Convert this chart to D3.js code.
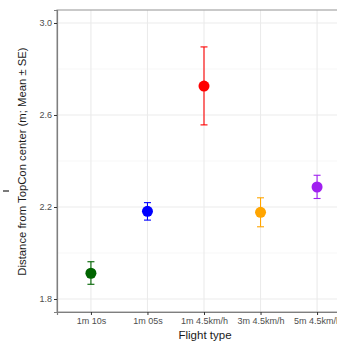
<!DOCTYPE html>
<html><head><meta charset="utf-8">
<script src="https://cdn.jsdelivr.net/npm/d3@7"></script>
<style>body{margin:0;background:#fff}svg{display:block}</style>
</head><body>
<svg id="c" width="337" height="343"></svg>
<script>
const categories = ["1m 10s","1m 05s","1m 4.5km/h","3m 4.5km/h","5m 4.5km/h"];
const means = [1.912, 2.181, 2.726, 2.177, 2.287];
const upper = [1.962, 2.219, 2.896, 2.240, 2.338];
const lower = [1.864, 2.143, 2.557, 2.114, 2.237];
const colors = ["#006400","#0000FF","#FF0000","#FFA500","#A020F0"];
const yTicks = [1.8, 2.2, 2.6, 3.0];
const yMinor = [2.0, 2.4, 2.8];

(function(){
const svg = d3.select("#c");
const pL = 57, pT = 10, pB = 312, pR = 351;
const x = d3.scalePoint().domain(categories).range([pL, pR]).padding(0.6);
const y = d3.scaleLinear().domain([1.7435, 3.0565]).range([pB, pT]);
const font = "Liberation Sans, Arial, sans-serif";

const g = svg.append("g");
g.selectAll(".ymin").data(yMinor).enter().append("line")
  .attr("x1", pL).attr("x2", pR).attr("y1", d=>y(d)).attr("y2", d=>y(d))
  .attr("stroke", "#f2f2f2").attr("stroke-width", 0.6);
g.selectAll(".ymaj").data(yTicks).enter().append("line")
  .attr("x1", pL).attr("x2", pR).attr("y1", d=>y(d)).attr("y2", d=>y(d))
  .attr("stroke", "#ebebeb").attr("stroke-width", 1.1);
g.selectAll(".xmaj").data(categories).enter().append("line")
  .attr("x1", d=>x(d)).attr("x2", d=>x(d)).attr("y1", pT).attr("y2", pB)
  .attr("stroke", "#ebebeb").attr("stroke-width", 1.1);

svg.append("rect").attr("x", pL).attr("y", pT).attr("width", pR-pL).attr("height", pB-pT)
  .attr("fill", "none").attr("stroke", "#a6a6a6").attr("stroke-width", 1.2);

const yAxis = d3.axisLeft(y).tickValues(yTicks).tickFormat(d3.format(".1f")).tickSize(3).tickPadding(2);
const ya = svg.append("g").attr("transform", `translate(${pL},0)`).call(yAxis);
const xAxis = d3.axisBottom(x).tickSize(3).tickPadding(3);
const xa = svg.append("g").attr("transform", `translate(0,${pB})`).call(xAxis);
[ya, xa].forEach(a => {
  a.select(".domain").attr("stroke", "#7f7f7f").attr("stroke-width", 1.2);
  a.selectAll(".tick line").attr("stroke", "#333").attr("stroke-width", 1);
  a.selectAll(".tick text").attr("fill", "#4d4d4d").attr("font-family", font).attr("font-size", 9);
});

const pts = categories.map((c,i)=>({c, m:means[i], u:upper[i], l:lower[i], col:colors[i]}));
const eb = svg.append("g").selectAll("g").data(pts).enter().append("g");
eb.append("line").attr("x1", d=>x(d.c)).attr("x2", d=>x(d.c)).attr("y1", d=>y(d.u)).attr("y2", d=>y(d.l))
  .attr("stroke", d=>d.col).attr("stroke-width", 1.1);
eb.append("line").attr("x1", d=>x(d.c)-3.5).attr("x2", d=>x(d.c)+3.5).attr("y1", d=>y(d.u)).attr("y2", d=>y(d.u))
  .attr("stroke", d=>d.col).attr("stroke-width", 1.1);
eb.append("line").attr("x1", d=>x(d.c)-3.5).attr("x2", d=>x(d.c)+3.5).attr("y1", d=>y(d.l)).attr("y2", d=>y(d.l))
  .attr("stroke", d=>d.col).attr("stroke-width", 1.1);
eb.append("circle").attr("cx", d=>x(d.c)).attr("cy", d=>y(d.m)).attr("r", 5.5).attr("fill", d=>d.col);

svg.append("text").attr("x", 205).attr("y", 338.5).attr("text-anchor", "middle")
  .attr("font-family", font).attr("font-size", 11.5).attr("fill", "#1a1a1a").text("Flight type");
svg.append("text").attr("transform", `translate(26,161.5) rotate(-90)`).attr("text-anchor", "middle")
  .attr("font-family", font).attr("font-size", 11.3).attr("fill", "#1a1a1a")
  .text("Distance from TopCon center (m; Mean \u00b1 SE)");
svg.append("line").attr("x1", 3).attr("x2", 9).attr("y1", 191).attr("y2", 191).attr("stroke", "#222").attr("stroke-width", 1.2);
})();
</script>
</body></html>
